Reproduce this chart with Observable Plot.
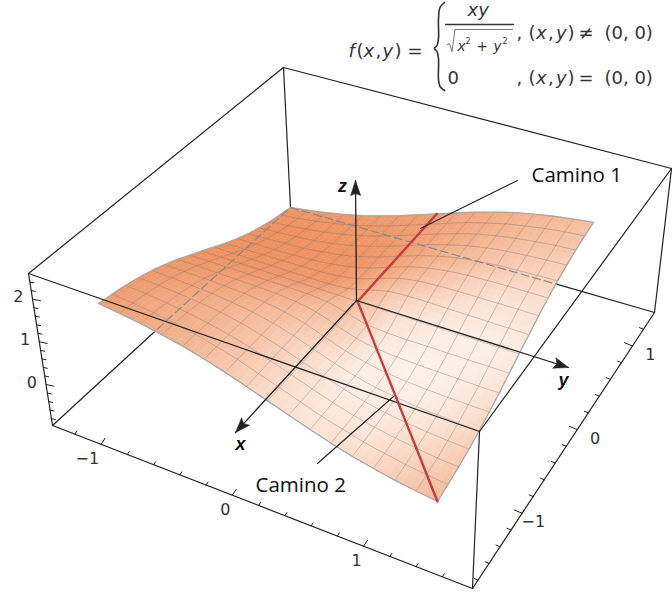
<!DOCTYPE html>
<html lang="es">
<head>
<meta charset="utf-8">
<style>html,body{margin:0;padding:0;background:#fff}svg{display:block}</style>
<script src="https://cdn.jsdelivr.net/npm/d3@7"></script>
<script src="https://cdn.jsdelivr.net/npm/@observablehq/plot@0.6"></script>
</head>
<body>
<div id="chart"></div>
<script>
// ---- Surface heights z(x, y), one quadrant, indexed by mesh step |i|, |j| from the origin
const zQuadrant = [
  [0,0,0,0,0,0,0,0,0],
  [0,.12,.16,.17,.17,.17,.17,.17,.17],
  [0,.16,.25,.29,.31,.32,.33,.34,.34],
  [0,.17,.29,.37,.42,.45,.47,.48,.49],
  [0,.17,.31,.42,.49,.55,.58,.61,.63],
  [0,.17,.32,.45,.55,.62,.67,.71,.74],
  [0,.17,.33,.47,.58,.67,.74,.80,.84],
  [0,.17,.34,.48,.61,.71,.80,.87,.92],
  [0,.17,.34,.49,.63,.74,.84,.92,.99]
];
// ---- Surface colour amount (rows: x low to high, columns: y low to high)
const shade = [
  [.80,.72,.60,.42,.22,.15,.22,.38,.55],
  [.85,.72,.62,.45,.22,.10,.12,.25,.42],
  [.88,.78,.65,.48,.25,.05,.05,.12,.30],
  [.90,.85,.75,.60,.40,.08,.02,.05,.15],
  [.95,.92,.88,.80,.50,.20,.08,.05,.08],
  [.95,.95,.92,.90,.72,.48,.28,.15,.15],
  [.95,.95,.95,.92,.84,.66,.50,.35,.28],
  [.95,.95,.92,.90,.82,.72,.60,.50,.42],
  [.90,.90,.88,.85,.80,.72,.65,.58,.50]
];
// ---- Tick values on the three box edges
const yTicks = [-1.2,-1,-.8,-.6,-.4,-.2,0,.2,.4,.6,.8,1,1.2,1.4,1.6];
const xTicks = [-1.8,-1.6,-1.4,-1.2,-1,-.8,-.6,-.4,-.2,0,.2,.4,.6,.8,1,1.2];
const zTicks = [-.8,-.6,-.4,-.2,0,.2,.4,.6,.8,1,1.2,1.4,1.6,1.8,2,2.2,2.4];
const yTickLabels = [-1,0,1];
const xTickLabels = [-1,0,1];
const zTickLabels = [0,1,2];
// Edge ranges of the box axes
const yEdgeRange = [-1.37,1.83], xEdgeRange = [-1.9,1.4], zEdgeRange = [-.96,2.6];

// ---- View: where the box and the surface sit in the 672×594 picture
const box = {A:[52,425],B:[472,588],C:[654,312],D:[290,207],E:[28,273],F:[479,431],G:[671,168],H:[283,67]};
const planeZ0 = [[103,344.6],[288.5,167.4],[589.5,261],[438,458.4]];      // surface corners at z = 0
const upPerZ  = [[-5,-42],[-1.5,-40],[3.5,-39.5],[1,-43]];                 // image shift per unit of z
const origin = [356,300], xTip = [235,432], yTip = [568,367], zTip = [355,180];

function quad(p){
  const [x0,y0]=p[0],[x1,y1]=p[1],[x2,y2]=p[2],[x3,y3]=p[3];
  const dx1=x1-x2,dx2=x3-x2,sx=x0-x1+x2-x3,dy1=y1-y2,dy2=y3-y2,sy=y0-y1+y2-y3;
  const det=dx1*dy2-dx2*dy1, g=(sx*dy2-dx2*sy)/det, h=(dx1*sy-sx*dy1)/det;
  const a=x1-x0+g*x1,b=x3-x0+h*x3,d=y1-y0+g*y1,e=y3-y0+h*y3;
  return (u,v)=>{const w=g*u+h*v+1;return [(a*u+b*v+x0)/w,(d*u+e*v+y0)/w];};
}
const H0 = quad(planeZ0), H1 = quad(planeZ0.map((p,k)=>[p[0]+upPerZ[k][0],p[1]+upPerZ[k][1]]));
const zAt = (i,j)=>Math.sign(i*j)*zQuadrant[Math.abs(i)][Math.abs(j)];
function node(i,j){ // i,j in -8..8
  const u=(i+8)/16,v=(j+8)/16,z=zAt(i,j),a=H0(u,v),b=H1(u,v);
  return [a[0]+z*(b[0]-a[0]),a[1]+z*(b[1]-a[1])];
}
const nodes = d3.range(-8,9).map(i=>d3.range(-8,9).map(j=>node(i,j)));
function mix(a,b,t){return a+(b-a)*t;}
const SUB = 3, cells = [];
function shadeAt(p,q){ // p,q in 0..16
  const a=Math.min(7,Math.floor(p/2)),b=Math.min(7,Math.floor(q/2)),s=p/2-a,t=q/2-b;
  return mix(mix(shade[a][b],shade[a][b+1],t),mix(shade[a+1][b],shade[a+1][b+1],t),s);
}
function subPt(i,j,s,t){
  const n=nodes,a=n[i][j],b=n[i][j+1],c=n[i+1][j],d=n[i+1][j+1];
  return [mix(mix(a[0],b[0],t),mix(c[0],d[0],t),s),mix(mix(a[1],b[1],t),mix(c[1],d[1],t),s)];
}
let cid=0;
for(let i=0;i<16;i++)for(let j=0;j<16;j++)for(let s=0;s<SUB;s++)for(let t=0;t<SUB;t++){
  const s0=s/SUB,s1=(s+1)/SUB,t0=t/SUB,t1=(t+1)/SUB;
  const c=shadeAt(i+(s+.5)/SUB,j+(t+.5)/SUB);
  [[s0,t0],[s0,t1],[s1,t1],[s1,t0]].forEach(([a,b])=>{const p=subPt(i,j,a,b);cells.push({id:cid,x:p[0],y:p[1],c});});
  cid++;
}
const pts=(arr,id)=>arr.map(p=>({id,x:p[0],y:p[1]}));
const meshLines=[];
for(let k=1;k<16;k++){
  meshLines.push(...pts(nodes[k],"a"+k));
  meshLines.push(...pts(nodes.map(r=>r[k]),"b"+k));
}
const outline=pts([...nodes[0],...nodes.map(r=>r[16]),...[...nodes[16]].reverse(),...nodes.map(r=>r[0]).reverse(),nodes[0][0]],"o");
const camino1=pts(d3.range(0,9).map(i=>nodes[8+i][8]),"c1");
const camino2=pts(d3.range(0,9).map(i=>nodes[8-i][8+i]),"c2");

const seg=(...names)=>names.flatMap((n,k)=>pts([box[n[0]],box[n[1]]],n));
const hiddenA=[157,328.5], hiddenC=[556,283.7];
const backEdges=[...seg("HE","HG","HD"),...pts([box.A,hiddenA],"s1"),...pts([hiddenC,box.C],"s2")];
const dashed=[...pts([hiddenA,box.D],"d1"),...pts([box.D,hiddenC],"d2")];
const frontEdges=seg("EF","FG","FB","AB","BC","AE","GC");
function along(P,Q,range,v){const t=(v-range[0])/(range[1]-range[0]);return [P[0]+(Q[0]-P[0])*t,P[1]+(Q[1]-P[1])*t];}
function tickSet(P,Q,range,vals,dir,name){
  return vals.flatMap((v,k)=>{
    const b=along(P,Q,range,v),major=Math.abs(v-Math.round(v))<1e-6,f=major?1:.5;
    return pts([b,[b[0]+dir[0]*f,b[1]+dir[1]*f]],name+k);
  });
}
const ticks=[
  ...tickSet(box.A,box.B,yEdgeRange,yTicks,[4,-6],"ty"),
  ...tickSet(box.B,box.C,xEdgeRange,xTicks,[-8,-3.3],"tx"),
  ...tickSet(box.A,box.E,zEdgeRange,zTicks,[8,1.7],"tz")
];
const labelRow=(P,Q,range,vals)=>vals.map(v=>{const b=along(P,Q,range,v);return {x:b[0],y:b[1],t:String(v).replace("-","\u2212")};});
function head(tip,from,len,w,notch){
  const dx=from[0]-tip[0],dy=from[1]-tip[1],l=Math.hypot(dx,dy),ux=dx/l,uy=dy/l;
  return [tip,[tip[0]+ux*len-uy*w,tip[1]+uy*len+ux*w],[tip[0]+ux*notch,tip[1]+uy*notch],[tip[0]+ux*len+uy*w,tip[1]+uy*len-ux*w],tip];
}
const axisLines=[...pts([origin,xTip],"x"),...pts([origin,yTip],"y"),...pts([origin,zTip],"z")];
const heads=[...pts(head(xTip,origin,15,5.5,12),"hx"),...pts(head(yTip,origin,15,5.5,12),"hy"),...pts(head(zTip,origin,15,5,13),"hz")];
const leaders=[...pts([[420,228],[517,180]],"l1"),...pts([[393,396],[317,463]],"l2")];
const brace=pts([[444,2],[439.5,7],[438,18],[438,38],[436.5,45],[434,48],[436.5,51],[438,58],[438,79],[439.5,86],[444,90]],"br");
const fracBar=pts([[445,24],[513,24]],"fb");
const radical=pts([[447,44],[449,43],[451.5,51],[454.5,29],[512,29]],"rad");

const mathFont='"DejaVu Sans", sans-serif';
const mathPieces=[
  {t:"f",x:348,y:56,i:1},{t:"(",x:356,y:56},{t:"x",x:363,y:56,i:1},{t:",",x:375,y:56},{t:"y",x:382,y:56,i:1},{t:")",x:394,y:56},{t:"=",x:407,y:56},
  {t:"xy",x:467,y:15,i:1},
  {t:"x",x:457,y:50,i:1,s:13.5},{t:"2",x:465,y:43,s:8},{t:"+",x:476,y:50,s:13.5},{t:"y",x:493,y:50,i:1,s:13.5},{t:"2",x:502,y:43,s:8},
  {t:",",x:516,y:38},{t:"(",x:528,y:38},{t:"x",x:535.5,y:38,i:1},{t:",",x:547.5,y:38},{t:"y",x:555.5,y:38,i:1},{t:")",x:567,y:38},{t:"\u2260",x:578,y:38},{t:"(0, 0)",x:604,y:38},
  {t:"0",x:447,y:83},
  {t:",",x:516,y:83},{t:"(",x:528,y:83},{t:"x",x:535.5,y:83,i:1},{t:",",x:547.5,y:83},{t:"y",x:555.5,y:83,i:1},{t:")",x:567,y:83},{t:"=",x:578,y:83},{t:"(0, 0)",x:604,y:83}
];
const upright=mathPieces.filter(d=>!d.i), italic=mathPieces.filter(d=>d.i);
const axisNames=[{t:"x",x:240,y:444},{t:"y",x:563,y:380},{t:"z",x:342,y:186}];
const callouts=[{t:"Camino 1",x:531,y:181},{t:"Camino 2",x:255,y:491}];

const ink="#222", tickFont='"DejaVu Sans", sans-serif';
const lineOpts=(extra)=>({x:"x",y:"y",z:"id",...extra});
const chart=Plot.plot({
  width:672,height:594,margin:0,
  style:{background:"#fff"},
  x:{domain:[0,672],range:[0,672],axis:null},
  y:{domain:[0,594],range:[0,594],axis:null},
  color:{type:"linear",domain:[0,1],range:["#fff4ec","#ec8c58"]},
  marks:[
    Plot.line(backEdges,lineOpts({stroke:ink,strokeWidth:1.2})),
    Plot.line(cells,lineOpts({fill:"c",stroke:"c",strokeWidth:.6})),
    Plot.line(meshLines,lineOpts({stroke:"#7d6a60",strokeOpacity:.4,strokeWidth:.9,curve:"catmull-rom"})),
    Plot.line(outline,lineOpts({stroke:"#a8a8a8",strokeWidth:1.3,curve:"linear"})),
    Plot.line(dashed,lineOpts({stroke:"#8c8986",strokeWidth:1.2,strokeDasharray:"8 4"})),
    Plot.line(frontEdges,lineOpts({stroke:ink,strokeWidth:1.2})),
    Plot.line(ticks,lineOpts({stroke:ink,strokeWidth:1})),
    Plot.line(camino1,lineOpts({stroke:"#c73c3c",strokeWidth:2.4})),
    Plot.line(camino2,lineOpts({stroke:"#c73c3c",strokeWidth:2.4})),
    Plot.line(axisLines,lineOpts({stroke:ink,strokeWidth:1.3})),
    Plot.line(heads,lineOpts({fill:ink,stroke:ink,strokeWidth:.5})),
    Plot.line(leaders,lineOpts({stroke:ink,strokeWidth:1.1})),
    Plot.text(labelRow(box.A,box.B,yEdgeRange,yTickLabels),{x:"x",y:"y",text:"t",textAnchor:"end",dx:-2,dy:15,fontSize:16,fontFamily:tickFont,fill:"#333"}),
    Plot.text(labelRow(box.B,box.C,xEdgeRange,xTickLabels),{x:"x",y:"y",text:"t",textAnchor:"end",dx:23,dy:9,fontSize:16,fontFamily:tickFont,fill:"#333"}),
    Plot.text(labelRow(box.A,box.E,zEdgeRange,zTickLabels),{x:"x",y:"y",text:"t",textAnchor:"end",dx:-9,dy:-2,fontSize:16,fontFamily:tickFont,fill:"#333"}),
    Plot.text(axisNames,{x:"x",y:"y",text:"t",fontSize:18,fontWeight:"bold",fontStyle:"italic",fontFamily:'"Liberation Sans", sans-serif',fill:"#111"}),
    Plot.text(callouts,{x:"x",y:"y",text:"t",textAnchor:"start",lineAnchor:"bottom",fontSize:20.5,fontFamily:'"Open Sans", sans-serif',fill:"#111"}),
    Plot.line(brace,lineOpts({stroke:"#333",strokeWidth:1.6,curve:"catmull-rom"})),
    Plot.line(fracBar,lineOpts({stroke:"#333",strokeWidth:1.3})),
    Plot.line(radical,lineOpts({stroke:"#666",strokeWidth:.9})),
    Plot.text(upright,{x:"x",y:"y",text:"t",textAnchor:"start",lineAnchor:"bottom",fontSize:d=>d.s||18,fontFamily:mathFont,fill:"#333"}),
    Plot.text(italic,{x:"x",y:"y",text:"t",textAnchor:"start",lineAnchor:"bottom",fontStyle:"italic",fontSize:d=>d.s||18,fontFamily:mathFont,fill:"#333"})
  ]
});
document.getElementById("chart").append(chart);
</script>
</body>
</html>
